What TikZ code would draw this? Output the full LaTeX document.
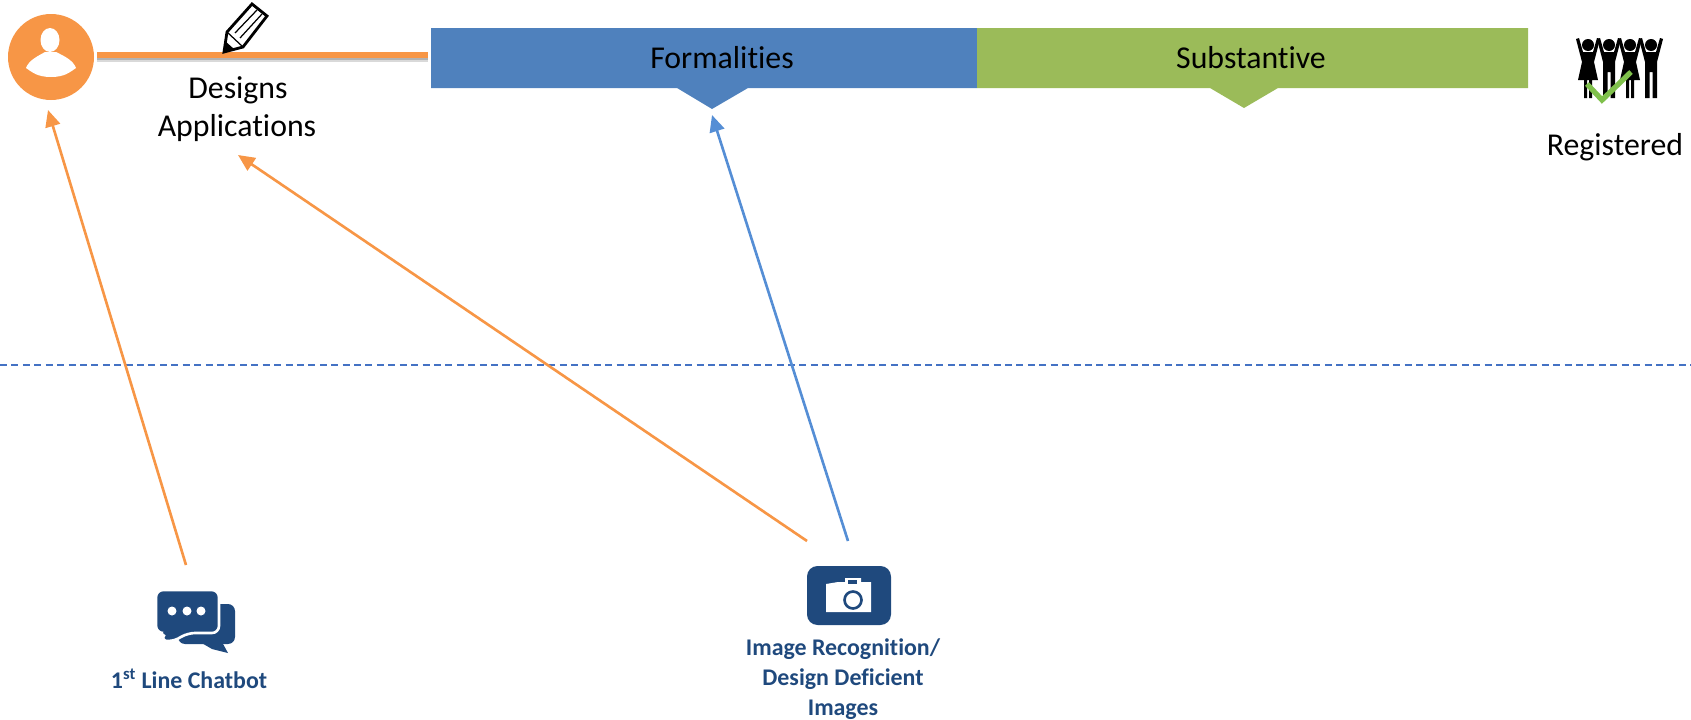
\documentclass[tikz,border=0pt]{standalone}
\usepackage{fontspec}
\setmainfont{Carlito}[Ligatures=CommonOff]
\usetikzlibrary{arrows.meta}
\definecolor{userorange}{HTML}{F79646}
\definecolor{formblue}{HTML}{4F81BD}
\definecolor{subgreen}{HTML}{9BBB59}
\definecolor{iconblue}{HTML}{1F497D}
\definecolor{arrowblue}{HTML}{558ED5}
\definecolor{checkgreen}{HTML}{7FC04B}
\definecolor{dashblue}{HTML}{4472C4}
\tikzset{
  bartext/.style={font=\fontsize{18.1}{22}\selectfont,text=black,inner sep=0pt},
  icontext/.style={font=\fontsize{13.6}{17}\selectfont\bfseries,text=iconblue,align=center,inner sep=0pt},
  orangearrow/.style={draw=userorange,line width=1.5pt,-{Triangle[length=9.5pt,width=8.5pt]}},
  bluearrow/.style={draw=arrowblue,line width=1.5pt,-{Triangle[length=9.5pt,width=8.5pt]}}
}
\begin{document}
\begin{tikzpicture}[x=0.02cm,y=-0.02cm]
\useasboundingbox (0,0) rectangle (1691,720);
\coordinate (lineleft) at (97,55);
\coordinate (lineright) at (428,55);
\coordinate (userbottom) at (48,110);
\coordinate (appsbottom) at (238,155);
\coordinate (formbottom) at (712,115);
\coordinate (chattop) at (186,565);
\coordinate (camleft) at (807,541);
\coordinate (camright) at (848,541);
\coordinate (dashleft) at (0,365);
\coordinate (dashright) at (1691,365);
\fill[userorange] (51,57) circle[radius=43];
\fill[white] (50,40) ellipse[x radius=9.5,y radius=12];
\fill[white] (26,68) .. controls (29,60) and (38,56) .. (45,52) -- (56,52) .. controls (64,56) and (73,60) .. (76,68) .. controls (70,72) and (65,77) .. (51,77) .. controls (37,77) and (32,72) .. (26,68) -- cycle;
\draw[black!15,line width=4pt] ([yshift=-2.2pt]lineleft) -- ([yshift=-2.2pt]lineright);
\draw[black!30,line width=2.5pt] ([yshift=-1.8pt]lineleft) -- ([yshift=-1.8pt]lineright);
\draw[userorange,line width=3pt] (lineleft) -- (lineright);
\draw[line width=1.6pt,fill=white,line join=miter] (252,4) -- (267,16) -- (243,47) -- (224,52) -- (227,32) -- cycle;
\fill[black] (224,52) -- (225,41) -- (234,49) -- cycle;
\draw[line width=0.7pt] (227,32) -- (243,47) (235,33) -- (257,10) (240,38) -- (262,14);
\fill[formblue] (431,28) -- (977,28) -- (977,88) -- (748,88) -- (712,109) -- (677,88) -- (431,88) -- cycle;
\fill[subgreen] (977,28) -- (1528,28) -- (1528,88) -- (1278,88) -- (1244,108) -- (1210,88) -- (977,88) -- cycle;
\node (formalities) [bartext] at (722,58) {Formalities};
\node (substantive) [bartext] at (1251,58) {Substantive};
\node (designs) [bartext] at (238,90) {Designs};
\node (applications) [bartext] at (237,128) {Applications};
\node (registered) [bartext] at (1615,147) {Registered};
\foreach \px in {1588,1630} {
  \fill[black] (\px,45) circle[radius=6];
  \fill[black] (\px-12,39) -- (\px-9,38) -- (\px-5,52) -- (\px+5,52) -- (\px+9,38) -- (\px+12,39) -- (\px+6,62) -- (\px+10,80) -- (\px+4,80) -- (\px+4,98) -- (\px+1,98) -- (\px+1,80) -- (\px-1,80) -- (\px-1,98) -- (\px-4,98) -- (\px-4,80) -- (\px-10,80) -- (\px-6,62) -- cycle;
}
\foreach \px in {1609,1651} {
  \fill[black] (\px,45) circle[radius=6];
  \fill[black] (\px-12,39) -- (\px-9,38) -- (\px-5,52) -- (\px+5,52) -- (\px+9,38) -- (\px+12,39) -- (\px+6,62) -- (\px+6,98) -- (\px+1.5,98) -- (\px+1.5,72) -- (\px-1.5,72) -- (\px-1.5,98) -- (\px-6,98) -- (\px-6,62) -- cycle;
}
\draw[checkgreen,line width=3pt] (1587,84) -- (1602,100) -- (1631,72);
\draw[dashblue,line width=0.8pt,dash pattern=on 4pt off 2.5pt] (dashleft) -- (dashright);
\draw[orangearrow] (chattop) -- (userbottom);
\draw[orangearrow] (camleft) -- (appsbottom);
\draw[bluearrow] (camright) -- (formbottom);
\fill[iconblue,rounded corners=4pt] (178,604) -- (235,604) -- (235,644) -- (178,644) -- cycle;
\fill[iconblue] (200,642) -- (222,642) -- (228,653) -- (212,649) -- cycle;
\draw[white,line width=1.5pt,fill=iconblue,rounded corners=4pt] (156,590) -- (219,590) -- (219,633) -- (188,633) -- (172,642) -- (160,640) -- (166,633) -- (156,633) -- cycle;
\foreach \dotx in {172,187,201} {
  \fill[white] (\dotx,611) circle[radius=4.5];
}
\node (chatbotlabel) [icontext] at (189,679) {1\textsuperscript{st} Line Chatbot};
\fill[iconblue,rounded corners=6pt] (807,566) rectangle (891,625);
\fill[white] (826,584) -- (838,582) -- (845,582) -- (845,578) -- (861,578) -- (861,582) -- (871,582) -- (871,612) -- (826,612) -- cycle;
\fill[iconblue] (848,579.5) rectangle (857,584);
\draw[iconblue,line width=1.5pt] (853,600) circle[radius=8.5];
\node (imagelabel) [icontext] at (843,679) {Image Recognition/\\Design Deficient\\Images};
\end{tikzpicture}
\end{document}
